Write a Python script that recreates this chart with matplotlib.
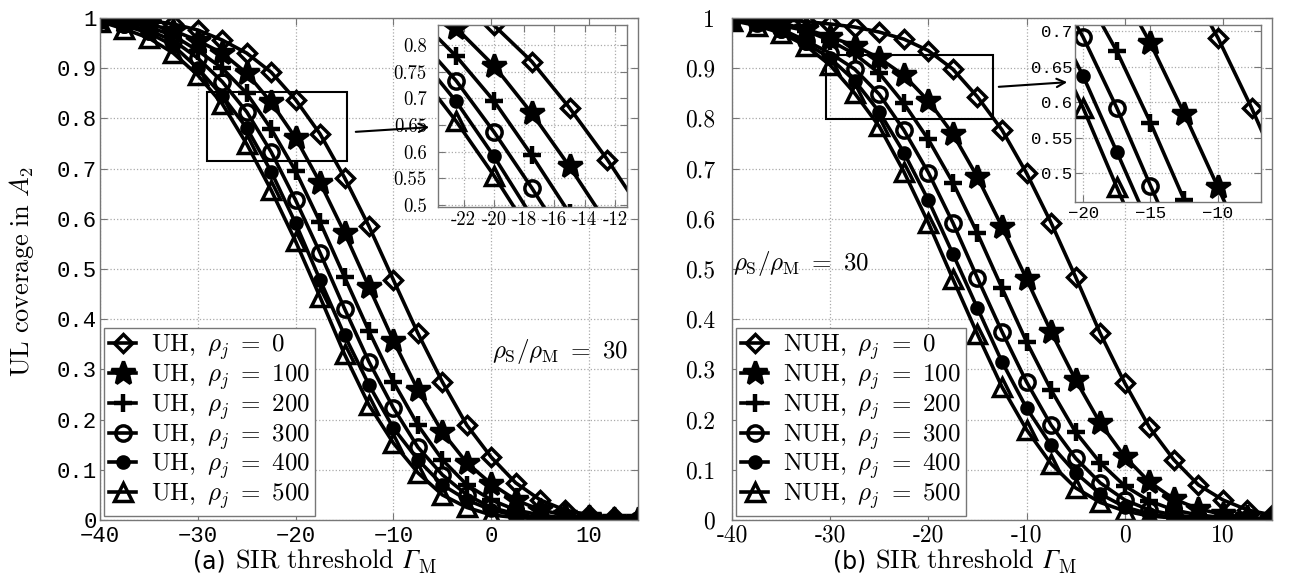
import matplotlib
matplotlib.use("Agg")
import matplotlib.pyplot as plt
from matplotlib.patches import Rectangle, FancyArrowPatch

plt.rcParams["mathtext.fontset"] = "cm"

# SIR threshold grid (dB)
sir_db = [-40, -37.5, -35, -32.5, -30, -27.5, -25, -22.5, -20, -17.5, -15, -12.5,
          -10, -7.5, -5, -2.5, 0, 2.5, 5, 7.5, 10, 12.5, 15]
rho_j = [0, 100, 200, 300, 400, 500]

# (a) UH coverage
uh_rho0 = [0.999, 0.998, 0.995, 0.988, 0.976, 0.956, 0.930, 0.892, 0.837, 0.769, 0.682, 0.585,
           0.478, 0.372, 0.275, 0.189, 0.125, 0.074, 0.040, 0.020, 0.010, 0.005, 0.002]
uh_rho100 = [0.998, 0.995, 0.988, 0.975, 0.955, 0.930, 0.890, 0.832, 0.761, 0.672, 0.572, 0.464,
             0.357, 0.259, 0.175, 0.114, 0.072, 0.040, 0.020, 0.010, 0.005, 0.002, 0.001]
uh_rho200 = [0.997, 0.992, 0.982, 0.965, 0.935, 0.900, 0.850, 0.779, 0.695, 0.593, 0.484, 0.376,
             0.275, 0.189, 0.120, 0.070, 0.040, 0.020, 0.010, 0.004, 0.002, 0.001, 0.000]
uh_rho300 = [0.996, 0.988, 0.975, 0.955, 0.920, 0.873, 0.813, 0.733, 0.637, 0.532, 0.421, 0.315,
             0.223, 0.145, 0.090, 0.050, 0.025, 0.012, 0.005, 0.002, 0.001, 0.000, 0.000]
uh_rho400 = [0.995, 0.985, 0.970, 0.945, 0.900, 0.845, 0.781, 0.694, 0.591, 0.478, 0.368, 0.269,
             0.183, 0.120, 0.070, 0.040, 0.020, 0.009, 0.004, 0.002, 0.001, 0.000, 0.000]
uh_rho500 = [0.993, 0.978, 0.960, 0.930, 0.886, 0.829, 0.749, 0.657, 0.555, 0.444, 0.330, 0.229,
             0.153, 0.094, 0.050, 0.025, 0.010, 0.005, 0.002, 0.001, 0.000, 0.000, 0.000]

# (b) NUH coverage
nuh_rho0 = [1.000, 0.999, 0.997, 0.993, 0.988, 0.982, 0.972, 0.958, 0.935, 0.898, 0.843, 0.777,
            0.691, 0.592, 0.484, 0.372, 0.273, 0.185, 0.120, 0.070, 0.040, 0.020, 0.010]
nuh_rho100 = [0.999, 0.997, 0.990, 0.978, 0.962, 0.945, 0.920, 0.886, 0.835, 0.769, 0.683, 0.584,
              0.480, 0.375, 0.279, 0.193, 0.126, 0.076, 0.042, 0.022, 0.011, 0.005, 0.002]
nuh_rho200 = [0.998, 0.994, 0.985, 0.975, 0.955, 0.928, 0.890, 0.830, 0.758, 0.672, 0.571, 0.462,
              0.355, 0.259, 0.175, 0.114, 0.068, 0.038, 0.020, 0.010, 0.005, 0.002, 0.001]
nuh_rho300 = [0.997, 0.990, 0.978, 0.955, 0.930, 0.898, 0.848, 0.777, 0.692, 0.592, 0.482, 0.375,
              0.275, 0.189, 0.123, 0.074, 0.040, 0.020, 0.010, 0.005, 0.002, 0.001, 0.000]
nuh_rho400 = [0.996, 0.988, 0.975, 0.950, 0.920, 0.875, 0.813, 0.732, 0.637, 0.530, 0.422, 0.315,
              0.223, 0.149, 0.094, 0.052, 0.026, 0.012, 0.005, 0.002, 0.001, 0.000, 0.000]
nuh_rho500 = [0.995, 0.985, 0.970, 0.945, 0.906, 0.850, 0.784, 0.694, 0.592, 0.480, 0.370, 0.265,
              0.180, 0.112, 0.064, 0.035, 0.018, 0.008, 0.004, 0.002, 0.001, 0.000, 0.000]

uh_series = [uh_rho0, uh_rho100, uh_rho200, uh_rho300, uh_rho400, uh_rho500]
nuh_series = [nuh_rho0, nuh_rho100, nuh_rho200, nuh_rho300, nuh_rho400, nuh_rho500]

main_xticks = [-40, -30, -20, -10, 0, 10]
main_yticks = [0, 0.1, 0.2, 0.3, 0.4, 0.5, 0.6, 0.7, 0.8, 0.9, 1]
main_ylabels = ["0", "0.1", "0.2", "0.3", "0.4", "0.5", "0.6", "0.7", "0.8", "0.9", "1"]
inset_a_xticks = [-22, -20, -18, -16, -14, -12]
inset_a_yticks = [0.5, 0.55, 0.6, 0.65, 0.7, 0.75, 0.8]
inset_b_xticks = [-20, -15, -10]
inset_b_yticks = [0.5, 0.55, 0.6, 0.65, 0.7]

marker_styles = [
    dict(marker="D", ms=9, mfc="none"),
    dict(marker="*", ms=18, mfc="k"),
    dict(marker="+", ms=13, mew=3.2),
    dict(marker="o", ms=11, mfc="none"),
    dict(marker="o", ms=8, mfc="k"),
    dict(marker="^", ms=13, mfc="none"),
]

GRAY = "#777777"
MONO = "Liberation Mono"


def draw_curves(ax, series, tag):
    handles = []
    for vals, rho, st in zip(series, rho_j, marker_styles):
        kw = dict(color="k", lw=2.6, mew=2.5, mec="k")
        kw.update(st)
        h, = ax.plot(sir_db, vals, label=r"$\mathrm{%s},\ \rho_j\ =\ %d$" % (tag, rho), **kw)
        handles.append(h)
    return handles


def style_axes(ax):
    ax.grid(True, ls=":", color="#aaaaaa", lw=0.9)
    for sp in ax.spines.values():
        sp.set_color(GRAY)
        sp.set_linewidth(1.0)
    ax.tick_params(direction="in", top=True, right=True, length=5, color=GRAY)


def tick_font(ax, family, size, padx, pady):
    for lab in ax.get_xticklabels() + ax.get_yticklabels():
        lab.set_fontfamily(family)
        lab.set_fontsize(size)
    ax.tick_params(axis="x", pad=padx)
    ax.tick_params(axis="y", pad=pady)


fig = plt.figure(figsize=(12.92, 5.86), dpi=100)

ax_a = fig.add_axes([100 / 1292, 66 / 586, 538 / 1292, 502 / 586])
ax_b = fig.add_axes([732 / 1292, 66 / 586, 540 / 1292, 502 / 586])

for ax, series, tag, minus in [(ax_a, uh_series, "UH", "\u2212"), (ax_b, nuh_series, "NUH", "-")]:
    hs = draw_curves(ax, series, tag)
    ax.set_xlim(-40, 15)
    ax.set_ylim(0, 1)
    ax.set_xticks(main_xticks)
    ax.set_xticklabels([str(t).replace("-", minus) for t in main_xticks])
    ax.set_yticks(main_yticks)
    ax.set_yticklabels(main_ylabels)
    style_axes(ax)
    leg = ax.legend(handles=hs, loc="lower left", fontsize=18, fancybox=False,
                    edgecolor=GRAY, framealpha=1, borderaxespad=0.15, borderpad=0.2,
                    handlelength=1.1, handletextpad=0.6, labelspacing=0.0)
    leg.get_frame().set_linewidth(1.0)

tick_font(ax_a, MONO, 16, 4, 2)
tick_font(ax_b, "cmr10", 17, 3, 12)

# zoom rectangles
ax_a.add_patch(Rectangle((-29.1, 0.715), 14.4, 0.138, fill=False, ec="k", lw=1.5, zorder=5))
ax_b.add_patch(Rectangle((-30.4, 0.799), 17.0, 0.127, fill=False, ec="k", lw=1.5, zorder=5))

# insets
in_a = fig.add_axes([438 / 1292, 379 / 586, 189 / 1292, 182 / 586])
draw_curves(in_a, uh_series, "UH")
in_a.set_xlim(-23.7, -11.2)
in_a.set_ylim(0.496, 0.8375)
in_a.set_xticks(inset_a_xticks)
in_a.set_xticklabels([str(t) for t in inset_a_xticks])
in_a.set_yticks(inset_a_yticks)
in_a.set_yticklabels(["%g" % t for t in inset_a_yticks])
style_axes(in_a)
tick_font(in_a, "cmr10", 13.5, 3, 8)

in_b = fig.add_axes([1075 / 1292, 384 / 586, 186 / 1292, 177 / 586])
draw_curves(in_b, nuh_series, "NUH")
in_b.set_xlim(-20.6, -6.8)
in_b.set_ylim(0.459, 0.709)
in_b.set_xticks(inset_b_xticks)
in_b.set_xticklabels([str(t).replace("-", "\u2212") for t in inset_b_xticks])
in_b.set_yticks(inset_b_yticks)
in_b.set_yticklabels(["%g" % t for t in inset_b_yticks])
style_axes(in_b)
tick_font(in_b, MONO, 12.5, 3, 2)

# arrows from rectangles to insets
for (x0, y0), (x1, y1) in [((353, 132), (432, 127)), ((996, 87), (1070, 82))]:
    arr = FancyArrowPatch((x0 / 1292, 1 - y0 / 586), (x1 / 1292, 1 - y1 / 586),
                          transform=fig.transFigure, arrowstyle="->,head_length=6,head_width=3",
                          lw=1.5, color="k", zorder=10)
    fig.add_artist(arr)

# annotations
fig.text(628 / 1292, 1 - 352 / 586, r"$\rho_\mathrm{S}/\rho_\mathrm{M}\ =\ 30$",
         ha="right", va="center", fontsize=18)
fig.text(733 / 1292, 1 - 263 / 586, r"$\rho_\mathrm{S}/\rho_\mathrm{M}\ =\ 30$",
         ha="left", va="center", fontsize=18)

# axis labels
fig.text(22 / 1292, 1 - 272 / 586, r"$\mathrm{UL\ coverage\ in\ }A_2$",
         rotation=90, ha="center", va="center", fontsize=19)

renderer = fig.canvas.get_renderer()
base_y = 1 - 568 / 586
for px_tag, px_lab, tag in [(193, 235, "(a)"), (833, 875, "(b)")]:
    fig.text(px_tag / 1292, base_y, tag, ha="left", va="baseline",
             fontsize=17, family="DejaVu Sans")
    t = fig.text(px_lab / 1292, base_y, r"$\mathrm{SIR\ threshold}$",
                 ha="left", va="baseline", fontsize=19)
    x_end = t.get_window_extent(renderer=renderer).x1
    g = fig.text((x_end + 8) / 1292, base_y, "\u0393", ha="left", va="baseline",
                 fontsize=19, family="STIXGeneral", style="italic")
    g_end = g.get_window_extent(renderer=renderer).x1
    fig.text((g_end - 1) / 1292, base_y - 5 / 586, r"$\mathrm{M}$", ha="left",
             va="baseline", fontsize=13.5)

fig.savefig("out.png", dpi=100)
